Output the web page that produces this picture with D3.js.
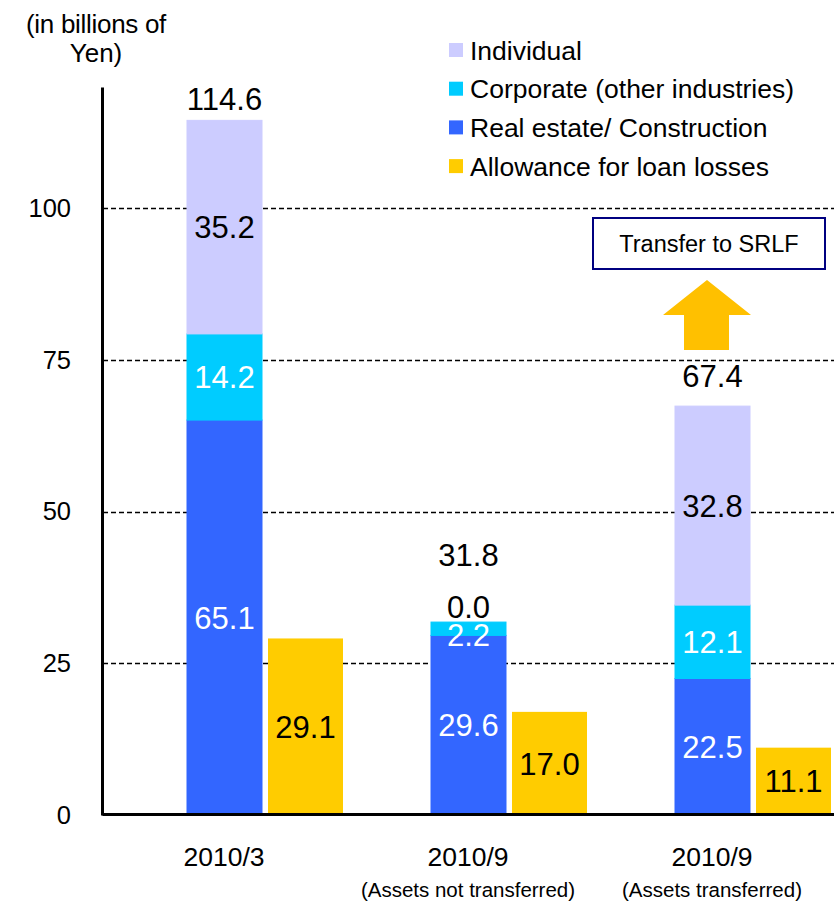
<!DOCTYPE html>
<html>
<head>
<meta charset="utf-8">
<script src="https://cdn.jsdelivr.net/npm/d3@7"></script>
<style>
  body { margin: 0; background: #fff; }
  svg { font-family: "Liberation Sans", Arial, sans-serif; display: block; }
</style>
</head>
<body>
<svg id="chart" width="834" height="904"></svg>
<script>
// chart data
const categories = ["2010/3", "2010/9", "2010/9"];
const subLabels = ["", "(Assets not transferred)", "(Assets transferred)"];
const realEstate = [65.1, 29.6, 22.5];
const corporate = [14.2, 2.2, 12.1];
const individual = [35.2, 0.0, 32.8];
const allowance = [29.1, 17.0, 11.1];
const totals = [114.6, 31.8, 67.4];
const yTicks = [0, 25, 50, 75, 100];

const seriesNames = ["Individual", "Corporate (other industries)", "Real estate/ Construction", "Allowance for loan losses"];
const colors = { realEstate: "#3366FF", corporate: "#00CCFF", individual: "#CCCCFF", allowance: "#FFCC00" };

const svg = d3.select("#chart");

const x = d3.scaleBand().domain(d3.range(categories.length)).range([102, 834]);
const y = d3.scaleLinear().domain([0, 120]).range([815, 87]);

const barW = 75;

// gridlines (behind bars)
svg.append("g")
  .selectAll("line")
  .data(yTicks.filter(d => d > 0))
  .join("line")
  .attr("x1", 103).attr("x2", 834)
  .attr("y1", d => Math.round(y(d)) + 0.5).attr("y2", d => Math.round(y(d)) + 0.5)
  .attr("stroke", "#000")
  .attr("stroke-width", 1.3)
  .attr("stroke-dasharray", "5,3");

// stacked bars
const stackKeys = ["realEstate", "corporate", "individual"];
const rows = categories.map((c, i) => ({
  i, realEstate: realEstate[i], corporate: corporate[i], individual: individual[i]
}));
const stacked = d3.stack().keys(stackKeys)(rows);

const stackX = i => x(i) + x.bandwidth() / 2 - 37;
const allowX = i => x(i) + x.bandwidth() / 2 + 44;

stacked.forEach(layer => {
  svg.append("g")
    .selectAll("rect")
    .data(layer)
    .join("rect")
    .attr("x", d => stackX(d.data.i))
    .attr("width", barW)
    .attr("y", d => y(d[1]))
    .attr("height", d => y(d[0]) - y(d[1]))
    .attr("fill", colors[layer.key])
    .attr("stroke", colors[layer.key])
    .attr("stroke-width", 1);
});

// allowance bars
svg.append("g")
  .selectAll("rect")
  .data(allowance)
  .join("rect")
  .attr("x", (d, i) => allowX(i))
  .attr("width", barW)
  .attr("y", d => y(d))
  .attr("height", d => y(0) - y(d))
  .attr("fill", colors.allowance);

// segment labels
const labelFont = 31;
stacked.forEach(layer => {
  svg.append("g")
    .selectAll("text")
    .data(layer)
    .join("text")
    .attr("x", d => stackX(d.data.i) + barW / 2)
    .attr("y", d => {
      const v = d[1] - d[0];
      // zero-height segment: put label just above the bar
      if (v === 0) return y(d[1]) - 4;
      return (y(d[0]) + y(d[1])) / 2 + labelFont * 0.36 + (v < 5 ? 6 : 0);
    })
    .attr("text-anchor", "middle")
    .attr("font-size", labelFont)
    .attr("fill", layer.key === "individual" ? "#000" : "#fff")
    .text(d => (d[1] - d[0]).toFixed(1));
});

svg.append("g")
  .selectAll("text")
  .data(allowance)
  .join("text")
  .attr("x", (d, i) => allowX(i) + barW / 2)
  .attr("y", d => y(d / 2) + labelFont * 0.36)
  .attr("text-anchor", "middle")
  .attr("font-size", labelFont)
  .attr("fill", "#000")
  .text(d => d.toFixed(1));

// totals above stacks
const totalLift = [10, 56, 19];
svg.append("g")
  .selectAll("text")
  .data(totals)
  .join("text")
  .attr("x", (d, i) => stackX(i) + barW / 2)
  .attr("y", (d, i) => y(d) - totalLift[i])
  .attr("text-anchor", "middle")
  .attr("font-size", labelFont)
  .attr("fill", "#000")
  .text(d => d.toFixed(1));

// y axis
const yAxis = svg.append("g")
  .attr("transform", "translate(102,0)")
  .call(d3.axisLeft(y).tickValues(yTicks).tickSize(0).tickSizeOuter(0).tickPadding(31));
yAxis.select(".domain").attr("stroke", "#000").attr("stroke-width", 3);
yAxis.selectAll("text").attr("font-size", 25.5).attr("font-family", "Liberation Sans, Arial, sans-serif").attr("fill", "#000");

// x axis
const xAxis = svg.append("g")
  .attr("transform", "translate(0,814)")
  .call(d3.axisBottom(x).tickSize(0).tickSizeOuter(0).tickPadding(33).tickFormat(i => categories[i]));
xAxis.select(".domain").attr("stroke", "#000").attr("stroke-width", 3);
xAxis.selectAll("text").attr("font-size", 26.5).attr("font-family", "Liberation Sans, Arial, sans-serif").attr("fill", "#000");

svg.append("g")
  .selectAll("text")
  .data(subLabels)
  .join("text")
  .attr("x", (d, i) => x(i) + x.bandwidth() / 2)
  .attr("y", 897)
  .attr("text-anchor", "middle")
  .attr("font-size", 20.5)
  .text(d => d);

// unit title
svg.append("text")
  .attr("x", 96).attr("y", 33)
  .attr("text-anchor", "middle")
  .attr("font-size", 26)
  .attr("letter-spacing", -0.3)
  .text("(in billions of");
svg.append("text")
  .attr("x", 96).attr("y", 62)
  .attr("text-anchor", "middle")
  .attr("font-size", 26)
  .text("Yen)");

// legend
const legendColors = [colors.individual, colors.corporate, colors.realEstate, colors.allowance];
const legend = svg.append("g")
  .selectAll("g")
  .data(seriesNames)
  .join("g")
  .attr("transform", (d, i) => `translate(449,${50 + i * 38.7})`);
legend.append("rect")
  .attr("x", 0).attr("y", -7)
  .attr("width", 14).attr("height", 14)
  .attr("fill", (d, i) => legendColors[i]);
legend.append("text")
  .attr("x", 21).attr("y", 9.5)
  .attr("font-size", 26.5)
  .text(d => d);

// transfer annotation
svg.append("rect")
  .attr("x", 593).attr("y", 218)
  .attr("width", 232).attr("height", 51)
  .attr("fill", "#fff")
  .attr("stroke", "#000080")
  .attr("stroke-width", 2);
svg.append("text")
  .attr("x", 709).attr("y", 252)
  .attr("text-anchor", "middle")
  .attr("font-size", 23.5)
  .text("Transfer to SRLF");

svg.append("polygon")
  .attr("points", "707,280 751,315 729,315 729,350 684,350 684,315 663,315")
  .attr("fill", "#FFC000");
</script>
</body>
</html>
